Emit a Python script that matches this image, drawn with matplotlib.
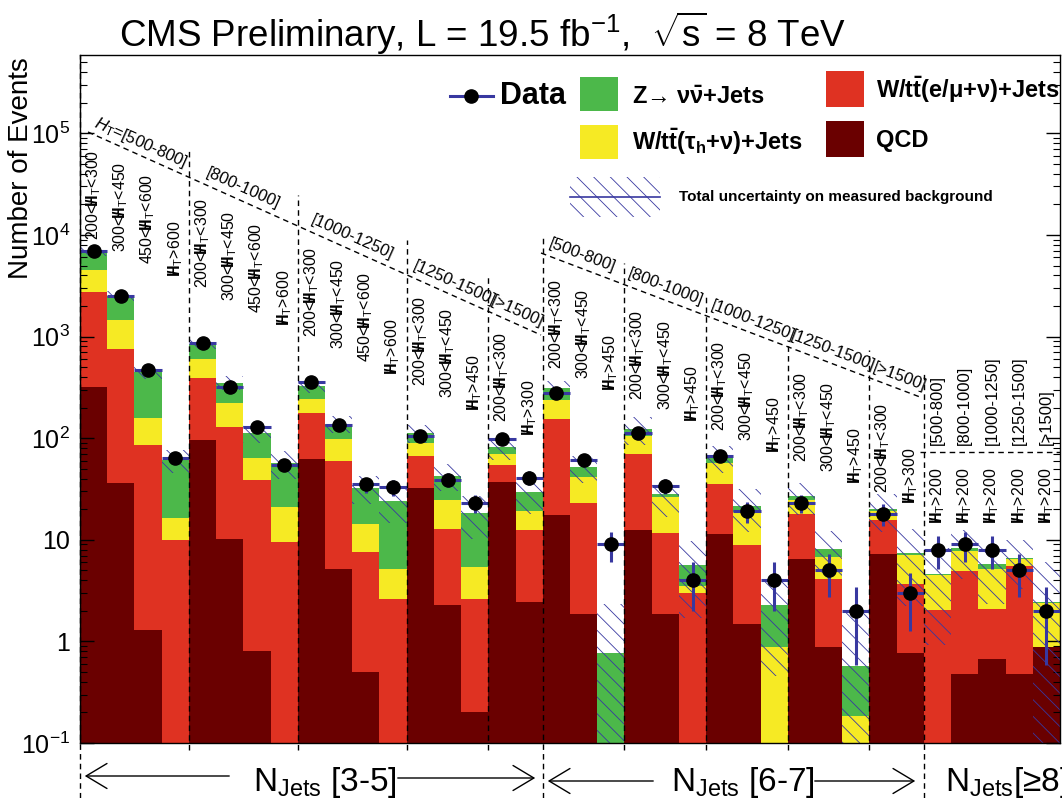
import numpy as np
import matplotlib
matplotlib.use('Agg')
import matplotlib.pyplot as plt
from matplotlib.patches import Rectangle, FancyArrowPatch
from matplotlib.lines import Line2D
from matplotlib.ticker import FuncFormatter, NullFormatter

plt.rcParams['font.family'] = ['Liberation Sans', 'DejaVu Sans']
plt.rcParams['mathtext.fontset'] = 'custom'
plt.rcParams['mathtext.rm'] = 'Liberation Sans'
plt.rcParams['mathtext.it'] = 'Liberation Sans:italic'
plt.rcParams['mathtext.bf'] = 'Liberation Sans:bold'
plt.rcParams['hatch.linewidth'] = 0.6

# predicted backgrounds per search bin (36 bins)
qcd = [320, 36, 1.3, 0.08, 97, 10.2, 0.8, 0.05, 63, 5.2, 0.5, 0.05, 32.5, 2.3, 0.2, 37, 2.45,
       17.6, 1.87, 0.02, 12.6, 1.87, 0.05, 11.3, 1.49, 0.02, 6.4, 0.87, 0.02, 7.3, 0.77,
       0.05, 0.48, 0.67, 0.48, 0.87]
lost_lep = [2450, 724, 84, 9.9, 298, 120, 38, 9.5, 112, 55, 7.1, 2.55, 33.5, 10.5, 2.4, 18, 10,
            138, 21, 0.03, 57, 9.8, 2.95, 23.7, 7.4, 0.01, 11.6, 3.2, 0.01, 8.4, 2.9,
            2.0, 4.4, 1.4, 5.0, 0.01]
had_tau = [1700, 680, 71, 6.5, 212, 94, 25, 11.4, 70, 39, 6.8, 2.5, 24, 12, 2.8, 15, 6.8,
           84, 19, 0.01, 36, 14.8, 0.5, 22, 9.7, 0.84, 6.4, 2.7, 0.155, 3.3, 3.4,
           2.5, 2.9, 3.1, 1.0, 1.5]
z_inv = [2400, 1080, 296, 44.5, 246, 128, 49, 36, 84, 40, 18, 19, 23, 18, 13, 12, 10.4,
         75, 10, 0.71, 18, 1.5, 2.2, 8, 3.0, 1.4, 2.6, 1.3, 0.385, 1.0, 0.4,
         0.1, 0.5, 0.65, 0.1, 0.05]
unc_frac = [0.10, 0.12, 0.15, 0.25, 0.12, 0.15, 0.2, 0.3, 0.15, 0.2, 0.3, 0.4, 0.2, 0.3, 0.45, 0.25, 0.4,
            0.15, 0.3, 2.0, 0.3, 0.4, 0.7, 0.3, 0.45, 0.8, 0.35, 0.5, 2.3, 0.4, 0.7,
            0.8, 0.5, 0.6, 0.5, 1.5]
data = [6900, 2500, 470, 64, 870, 320, 130, 55, 355, 135, 35, 33, 104, 39, 23, 99, 41,
        280, 61, 9, 112, 34, 4, 67, 19, 4, 23, 5, 2, 18, 3,
        8, 9, 8, 5, 2]

# bin labels
mht = r'$\mathbf{/}\!\!\!\mathbf{H}_{\rm T}$'
mht_g1 = ['200<' + mht + '<300', '300<' + mht + '<450', '450<' + mht + '<600', mht + '>600'] * 3 + \
         ['200<' + mht + '<300', '300<' + mht + '<450', mht + '>450'] + \
         ['200<' + mht + '<300', mht + '>300']
mht_g2 = ['200<' + mht + '<300', '300<' + mht + '<450', mht + '>450'] * 4 + \
         ['200<' + mht + '<300', mht + '>300']
mht_g3 = [mht + '>200'] * 5
ht_g1 = [r'$H_{\rm T}$=[500-800]', '[800-1000]', '[1000-1250]', '[1250-1500]', '[>1500]']
ht_g2 = ['[500-800]', '[800-1000]', '[1000-1250]', '[1250-1500]', '[>1500]']
ht_g3 = ['[500-800]', '[800-1000]', '[1000-1250]', '[1250-1500]', '[>1500]']

C_QCD = '#6a0000'
C_LEP = '#df3222'
C_TAU = '#f6ea24'
C_Z = '#4cb84a'
C_BLUE = '#3838a0'

qcd = np.array(qcd); lost_lep = np.array(lost_lep); had_tau = np.array(had_tau)
z_inv = np.array(z_inv); unc_frac = np.array(unc_frac); data = np.array(data, dtype=float)
nbins = len(data)

W, H = 1062, 798
AX_L, AX_R, AX_T, AX_B = 80, 1060, 55, 743
fig = plt.figure(figsize=(W / 100, H / 100), dpi=100)
ax = fig.add_axes([AX_L / W, 1 - AX_B / H, (AX_R - AX_L) / W, (AX_B - AX_T) / H])


def fx(px):
    return px / W


def fy(py):
    return 1 - py / H


def edge_px(i):
    return AX_L + i * (AX_R - AX_L) / nbins


# stacked backgrounds
x = np.arange(nbins) + 0.5
bottom = np.full(nbins, 1e-3)
for vals, col in [(qcd, C_QCD), (lost_lep, C_LEP), (had_tau, C_TAU), (z_inv, C_Z)]:
    ax.bar(x, vals, width=1.0, bottom=bottom, color=col, linewidth=0, zorder=1)
    bottom = bottom + vals

# total uncertainty band
total = bottom
lo = total * np.clip(1 - unc_frac, 1e-3, None)
hi = total * (1 + unc_frac)
ax.bar(x, hi - lo, width=1.0, bottom=lo, fill=False, hatch='\\\\', edgecolor=C_BLUE,
       linewidth=0, zorder=2)

# data
ax.errorbar(x, data, xerr=0.5, yerr=np.sqrt(data), fmt='o', color='black', ecolor=C_BLUE,
            elinewidth=2.2, capsize=0, markersize=9.5, zorder=5)

ax.set_yscale('log')
ax.set_ylim(0.1, 5.9e5)
ax.set_xlim(0, nbins)
ax.set_xticks([])


def ylab(v, pos):
    e = int(round(np.log10(v)))
    if e == 0:
        return '1'
    if e == 1:
        return '10'
    return r'$10^{%d}$' % e


ax.yaxis.set_major_formatter(FuncFormatter(ylab))
ax.yaxis.set_minor_formatter(NullFormatter())
ax.tick_params(axis='y', which='both', direction='in', right=True, labelsize=18, pad=7)
ax.tick_params(axis='y', which='major', length=10, width=1)
ax.tick_params(axis='y', which='minor', length=5, width=0.8)
for s in ax.spines.values():
    s.set_linewidth(1)

fig.text(fx(21), fy(57), 'Number of Events', rotation=90, ha='center', va='top', fontsize=20)
fig.text(fx(483), fy(33), r'CMS Preliminary, L = 19.5 fb$^{-1}$,  $\sqrt{\rm s}$ = 8 TeV',
         ha='center', va='center', fontsize=26.5)

dash = (0, (4, 3))


def fline(xs, ys, **kw):
    fig.add_artist(Line2D([fx(v) for v in xs], [fy(v) for v in ys], transform=fig.transFigure,
                          color='black', lw=1, ls=dash, **kw))


# header lines and separators
g1_a, g1_b = (88, 132), (541, 335)
g2_a, g2_b = (541, 253), (920, 397)
fline([g1_a[0], g1_b[0]], [g1_a[1], g1_b[1]])
fline([g2_a[0], g2_b[0]], [g2_a[1], g2_b[1]])
fline([920, AX_R], [452, 452])
for e, top in zip([4, 8, 12, 15], [150, 195, 240, 277]):
    fline([edge_px(e)] * 2, [750, top])
for e, top in zip([20, 23, 26, 29], [263, 295, 345, 350]):
    fline([edge_px(e)] * 2, [750, top])
for e, top in zip([0, 17, 31], [AX_T, 237, 372]):
    fline([edge_px(e)] * 2, [H, top])


def slant(a, b, px):
    return a[1] + (px - a[0]) * (b[1] - a[1]) / (b[0] - a[0])


ang1 = -np.degrees(np.arctan((g1_b[1] - g1_a[1]) / (g1_b[0] - g1_a[0])))
ang2 = -np.degrees(np.arctan((g2_b[1] - g2_a[1]) / (g2_b[0] - g2_a[0])))
for lab, sx in zip(ht_g1, [93, 205, 310, 412, 490]):
    fig.text(fx(sx), fy(slant(g1_a, g1_b, sx) - 8), lab, rotation=ang1, rotation_mode='anchor',
             ha='left', va='baseline', fontsize=12)
for lab, sx in zip(ht_g2, [548, 627, 710, 790, 872]):
    fig.text(fx(sx), fy(slant(g2_a, g2_b, sx) - 8), lab, rotation=ang2, rotation_mode='anchor',
             ha='left', va='baseline', fontsize=12)
for i, lab in enumerate(ht_g3):
    cx = (edge_px(31 + i) + edge_px(32 + i)) / 2
    fig.text(fx(cx), fy(445), lab, rotation=90, ha='center', va='bottom', fontsize=12)

for i, lab in enumerate(mht_g1):
    cx = (edge_px(i) + edge_px(i + 1)) / 2
    fig.text(fx(cx), fy(slant(g1_a, g1_b, cx) + 105), lab, rotation=90, ha='center', va='bottom',
             fontsize=11.5)
for i, lab in enumerate(mht_g2):
    cx = (edge_px(17 + i) + edge_px(18 + i)) / 2
    fig.text(fx(cx), fy(slant(g2_a, g2_b, cx) + 110), lab, rotation=90, ha='center', va='bottom',
             fontsize=11.5)
for i, lab in enumerate(mht_g3):
    cx = (edge_px(31 + i) + edge_px(32 + i)) / 2
    fig.text(fx(cx), fy(523), lab, rotation=90, ha='center', va='bottom', fontsize=11.5)


# NJets annotations
def farrow(x0, x1, yy):
    fig.add_artist(FancyArrowPatch((fx(x0), fy(yy)), (fx(x1), fy(yy)), transform=fig.transFigure,
                                   arrowstyle='->,head_length=0.5,head_width=0.3',
                                   mutation_scale=30, lw=1, color='black'))


farrow(232, 82, 776)
farrow(395, 538, 778)
farrow(656, 545, 781)
farrow(812, 918, 781)
fig.text(fx(253), fy(791), r'N$_{\rm Jets}$ [3-5]', fontsize=24, ha='left', va='baseline')
fig.text(fx(671), fy(791), r'N$_{\rm Jets}$ [6-7]', fontsize=24, ha='left', va='baseline')
fig.text(fx(945), fy(791), r'N$_{\rm Jets}$[≥8]', fontsize=24, ha='left', va='baseline')

# legend
fig.add_artist(Line2D([fx(450), fx(493)], [fy(96), fy(96)], transform=fig.transFigure,
                      color=C_BLUE, lw=2.2))
fig.add_artist(Line2D([fx(471)], [fy(96)], transform=fig.transFigure, marker='o',
                      color='black', markersize=9.5))
fig.text(fx(500), fy(96), 'Data', fontsize=22, fontweight='bold', ha='left', va='center')


def fbox(x0, y0, x1, y1, **kw):
    fig.add_artist(Rectangle((fx(x0), fy(y1)), fx(x1) - fx(x0), fy(y0) - fy(y1),
                             transform=fig.transFigure, **kw))


fbox(580, 77, 618, 111, color=C_Z, lw=0)
fbox(580, 125, 618, 159, color=C_TAU, lw=0)
fbox(826, 71, 864, 107, color=C_LEP, lw=0)
fbox(826, 121, 864, 157, color=C_QCD, lw=0)
fbox(570, 177, 660, 217, fill=False, hatch='\\\\', edgecolor=C_BLUE, lw=0)
fig.add_artist(Line2D([fx(570), fx(660)], [fy(197), fy(197)], transform=fig.transFigure,
                      color=C_BLUE, lw=1.2))
fig.text(fx(632), fy(97), r'Z→ $\mathbf{\nu\bar{\nu}}$+Jets', fontsize=17,
         fontweight='bold', ha='left', va='center')
fig.text(fx(632), fy(142), r'W/t$\mathbf{\bar{t}}$($\mathbf{\tau_{h}}$+$\mathbf{\nu}$)+Jets',
         fontsize=17, fontweight='bold', ha='left', va='center')
fig.text(fx(876), fy(90), r'W/t$\mathbf{\bar{t}}$(e/$\mathbf{\mu}$+$\mathbf{\nu}$)+Jets',
         fontsize=17, fontweight='bold', ha='left', va='center')
fig.text(fx(876), fy(140), 'QCD', fontsize=17, fontweight='bold', ha='left', va='center')
fig.text(fx(679), fy(197), 'Total uncertainty on measured background', fontsize=11,
         fontweight='bold', ha='left', va='center')

fig.savefig('out.png', dpi=100)
